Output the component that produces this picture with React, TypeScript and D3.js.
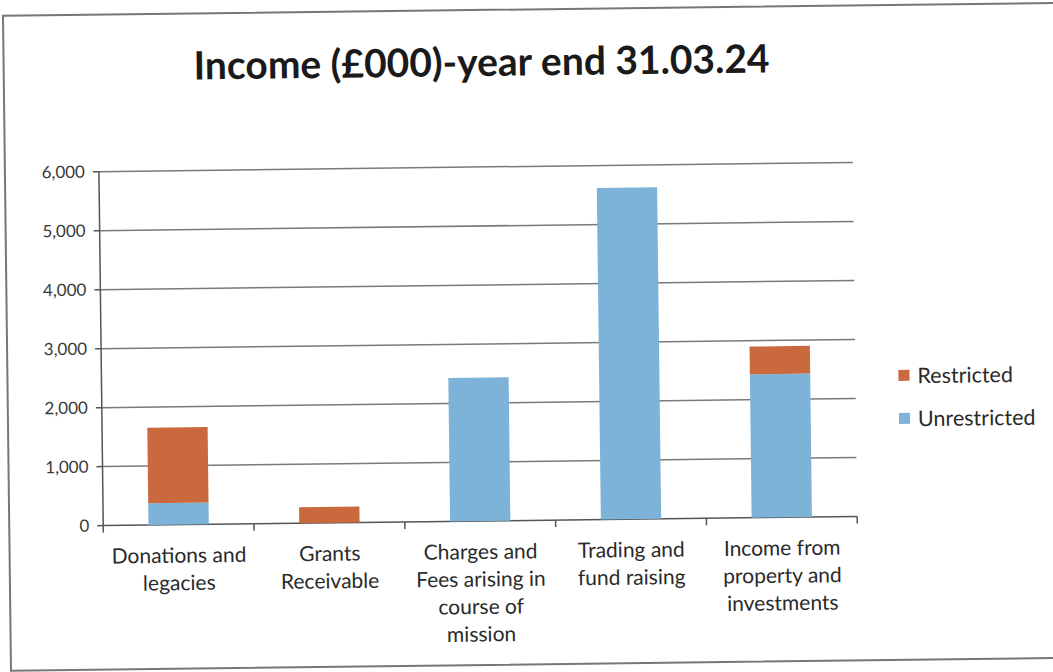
import React from "react";
import * as d3 from "d3";

const categories: string[][] = [
  ["Donations and", "legacies"],
  ["Grants", "Receivable"],
  ["Charges and", "Fees arising in", "course of", "mission"],
  ["Trading and", "fund raising"],
  ["Income from", "property and", "investments"],
];
const unrestricted: number[] = [370, 0, 2430, 5620, 2430];
const restricted: number[] = [1280, 270, 0, 0, 470];
const seriesNames: string[] = ["Restricted", "Unrestricted"];
const yTicks: number[] = [0, 1000, 2000, 3000, 4000, 5000, 6000];

const W = 1053;
const H = 672;
const m = { left: 101, right: 855, top: 167, bottom: 521 };
const RED = "#C9693D";
const BLUE = "#7DB3D8";
const FONT = "Lato, 'Open Sans', sans-serif";

export default function App() {
  const idx = categories.map((_, i) => String(i));
  const x = d3.scaleBand<string>().domain(idx).range([m.left, m.right]).paddingInner(0.6).paddingOuter(0.3);
  const xb = d3.scaleBand<string>().domain(idx).range([m.left, m.right]);
  const y = d3.scaleLinear().domain([0, 6000]).range([m.bottom, m.top]);
  const fmt = d3.format(",");
  const stackData = categories.map((_, i) => ({ i: String(i), Unrestricted: unrestricted[i], Restricted: restricted[i] }));
  const stacked = d3.stack<any>().keys(["Unrestricted", "Restricted"])(stackData);
  const colorOf: Record<string, string> = { Unrestricted: BLUE, Restricted: RED };

  return (
    <svg width={W} height={H} style={{ position: "absolute", left: 0, top: 0, background: "#fff" }}>
      <g transform="rotate(-0.7 480 340)">
        <rect x={7} y={10} width={1060} height={655} fill="#fff" stroke="#777" strokeWidth={2} />
        <text x={485} y={76} textAnchor="middle" fontFamily={FONT} fontWeight={700} fontSize={39} fill="#1a1a1a">
          Income (£000)-year end 31.03.24
        </text>
        {yTicks.map((t) => (
          <g key={t}>
            {t > 0 && <line x1={m.left} x2={m.right} y1={y(t)} y2={y(t)} stroke="#7a7a7a" strokeWidth={1.5} />}
            <line x1={m.left - 6} x2={m.left} y1={y(t)} y2={y(t)} stroke="#555" strokeWidth={1.5} />
            <text x={m.left - 14} y={y(t)} dy="0.35em" textAnchor="end" fontFamily={FONT} fontSize={17} fill="#3a3a3a">
              {fmt(t)}
            </text>
          </g>
        ))}
        <line x1={m.left} x2={m.left} y1={m.top} y2={m.bottom} stroke="#555" strokeWidth={1.5} />
        <line x1={m.left} x2={m.right} y1={m.bottom} y2={m.bottom} stroke="#555" strokeWidth={1.5} />
        {idx.map((k) => (
          <line key={k} x1={(xb(k) as number) + xb.bandwidth()} x2={(xb(k) as number) + xb.bandwidth()} y1={m.bottom} y2={m.bottom + 7} stroke="#555" strokeWidth={1.5} />
        ))}
        <line x1={m.left} x2={m.left} y1={m.bottom} y2={m.bottom + 7} stroke="#555" strokeWidth={1.5} />
        {stacked.map((s) => (
          <g key={s.key} fill={colorOf[s.key]}>
            {s.map((d, j) => (
              <rect key={j} x={x(d.data.i)} width={x.bandwidth()} y={y(d[1])} height={Math.max(0, y(d[0]) - y(d[1]))} />
            ))}
          </g>
        ))}
        {categories.map((lines, i) => (
          <text key={i} textAnchor="middle" fontFamily={FONT} fontSize={21} fill="#2a2a2a">
            {lines.map((ln, j) => (
              <tspan key={j} x={(xb(String(i)) as number) + xb.bandwidth() / 2} y={559 + j * 27.5}>
                {ln}
              </tspan>
            ))}
          </text>
        ))}
        {seriesNames.map((n, i) => (
          <g key={n} transform={`translate(898, ${381 + i * 43})`}>
            <rect x={0} y={-6} width={11} height={11} fill={n === "Restricted" ? RED : BLUE} />
            <text x={19} y={0} dy="0.35em" fontFamily={FONT} fontSize={21.5} fill="#2a2a2a">
              {n}
            </text>
          </g>
        ))}
      </g>
    </svg>
  );
}
